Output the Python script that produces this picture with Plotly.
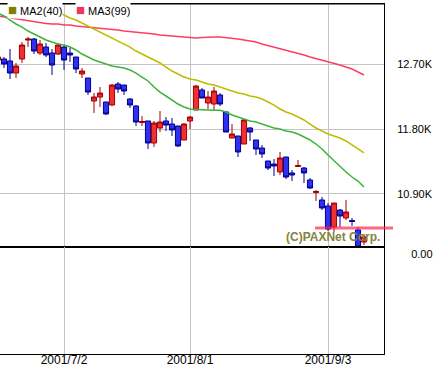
import plotly.graph_objects as go

# ---------------- data ----------------
dates = [
    "2001-06-15", "2001-06-18", "2001-06-19", "2001-06-20", "2001-06-21", "2001-06-22",
    "2001-06-25", "2001-06-26", "2001-06-27", "2001-06-28", "2001-06-29",
    "2001-07-02", "2001-07-03", "2001-07-04", "2001-07-05", "2001-07-06",
    "2001-07-09", "2001-07-10", "2001-07-11", "2001-07-12", "2001-07-13",
    "2001-07-16", "2001-07-17", "2001-07-18", "2001-07-19",
    "2001-07-23", "2001-07-24", "2001-07-25", "2001-07-26", "2001-07-27",
    "2001-07-30", "2001-07-31",
    "2001-08-01", "2001-08-02", "2001-08-03",
    "2001-08-06", "2001-08-07", "2001-08-08", "2001-08-09", "2001-08-10",
    "2001-08-13", "2001-08-14", "2001-08-15", "2001-08-16", "2001-08-17",
    "2001-08-20", "2001-08-21", "2001-08-22", "2001-08-23", "2001-08-24",
    "2001-08-27", "2001-08-28", "2001-08-29", "2001-08-30", "2001-08-31",
    "2001-09-03", "2001-09-04", "2001-09-05", "2001-09-06", "2001-09-07",
    "2001-09-10", "2001-09-11",
]

opens = [12755, 12769, 12742, 12575, 12769, 13032, 13046, 12852, 12935, 12852, 12838,
         12935, 12852, 12797, 12562, 12506, 12188, 12243, 12174, 12132, 12423, 12409,
         12215, 12118, 11890, 11911, 11606, 11814, 11911, 11869, 11842, 11648,
         11911, 12063, 12340, 12160, 12146, 12271, 12035, 11675, 11703, 11592, 11814,
         11648, 11537, 11357, 11315, 11205, 11412, 11191, 11281, 11260, 11094, 10921, 10817,
         10734, 10443, 10678, 10568, 10533, 10402, 10235]
highs = [12825, 12797, 12908, 12714, 13005, 13074, 13060, 13032, 12991, 12908, 12991,
         12949, 12922, 12797, 12645, 12506, 12298, 12382, 12174, 12423, 12451, 12409,
         12229, 12132, 11980, 11911, 11911, 12049, 11966, 11952, 11842, 11883,
         11980, 12409, 12368, 12326, 12382, 12298, 12049, 11869, 11703, 11938, 11828,
         11648, 11578, 11357, 11385, 11482, 11412, 11232, 11371, 11274, 11122, 10955, 10858,
         10775, 10775, 10692, 10817, 10568, 10443, 10346]
lows = [12728, 12645, 12492, 12506, 12714, 12935, 12838, 12825, 12797, 12548, 12825,
        12617, 12728, 12575, 12506, 12271, 12022, 12105, 11994, 12118, 12298, 12271,
        12091, 11842, 11842, 11523, 11551, 11758, 11772, 11703, 11551, 11648,
        11800, 12063, 12229, 12077, 12063, 12118, 11758, 11675, 11412, 11592, 11634,
        11440, 11398, 11232, 11149, 11163, 11108, 11080, 11274, 11052, 10969, 10803, 10678,
        10388, 10374, 10443, 10540, 10457, 10152, 10194]
closes = [12797, 12700, 12575, 12672, 12963, 13046, 12880, 12977, 12825, 12686, 12963,
          12755, 12825, 12631, 12603, 12312, 12243, 12298, 12008, 12409, 12354, 12326,
          12132, 11897, 11904, 11606, 11883, 11897, 11855, 11786, 11565, 11869,
          11966, 12395, 12229, 12243, 12326, 12146, 11758, 11731, 11482, 11925, 11758,
          11523, 11454, 11260, 11288, 11398, 11135, 11163, 11295, 11191, 10983, 10935, 10706,
          10415, 10775, 10595, 10651, 10519, 10166, 10305]

# short moving average (green)
ma1 = [13406, 13365, 13309, 13254, 13212, 13157, 13115, 13074, 13032, 13005, 12977,
       12963, 12935, 12894, 12838, 12797, 12755, 12728, 12700, 12672, 12658, 12645,
       12617, 12575, 12520, 12465, 12382, 12312, 12257, 12202, 12146, 12105,
       12077, 12070, 12063, 12063, 12060, 12060, 12035, 11994, 11966, 11938, 11911,
       11897, 11869, 11842, 11814, 11800, 11772, 11758, 11731, 11689, 11648, 11592, 11523,
       11440, 11357, 11274, 11205, 11135, 11080, 10997]
# MA2(40) (starts later on the visible window)
ma2 = [13586, 13545, 13503, 13462, 13420,
       13378, 13337, 13309, 13268, 13226, 13185, 13143, 13102, 13060, 13018, 12977,
       12935, 12880, 12838, 12797, 12755, 12714, 12658, 12603, 12562, 12520,
       12492, 12478, 12451, 12423, 12409, 12382, 12354, 12326, 12298, 12285, 12257,
       12243, 12215, 12174, 12132, 12077, 12035, 12008, 11966, 11925, 11869, 11814, 11772,
       11731, 11703, 11675, 11634, 11578, 11523, 11468]
# MA3(99)
ma3 = [13365, 13351, 13337, 13323, 13309, 13295, 13282, 13268, 13261, 13254, 13254,
       13240, 13240, 13226, 13219, 13212, 13205, 13198, 13185, 13178, 13171, 13157,
       13150, 13143, 13129, 13122, 13115, 13102, 13095, 13088, 13074, 13067,
       13060, 13060, 13067, 13074, 13074, 13074, 13067, 13060, 13046, 13032, 13018,
       13005, 12977, 12956, 12935, 12908, 12894, 12873, 12852, 12825, 12797, 12776, 12755,
       12735, 12714, 12686, 12658, 12631, 12589, 12548]

price_ticks = [10900, 11800, 12700]
price_tick_labels = ["10.90K", "11.80K", "12.70K"]
date_ticks = ["2001-07-02", "2001-08-01", "2001-09-03"]
date_tick_labels = ["2001/7/2", "2001/8/1", "2001/9/3"]
volume_ticks = [0]
volume_tick_labels = ["0.00"]
support_level = 10430
legend_names = ["MA2(40)", "MA3(99)"]
legend_colors = ["#808000", "#f0365a"]
copyright_text = "(C)PAXNet Corp."

# ---------------- figure ----------------
FONT = "Liberation Sans, Arial, sans-serif"
split = 107 / 350

fig = go.Figure()

fig.add_trace(go.Scatter(
    x=dates, y=ma3, mode="lines", xaxis="x", yaxis="y",
    line=dict(color="#ff3c66", width=1.5), showlegend=False, hoverinfo="skip"))
fig.add_trace(go.Scatter(
    x=dates[-len(ma2):], y=ma2, mode="lines", xaxis="x", yaxis="y",
    line=dict(color="#bcbc00", width=1.5), showlegend=False, hoverinfo="skip"))
fig.add_trace(go.Scatter(
    x=dates, y=ma1, mode="lines", xaxis="x", yaxis="y",
    line=dict(color="#3cb43c", width=1.5), showlegend=False, hoverinfo="skip"))

fig.add_trace(go.Candlestick(
    x=dates, open=opens, high=highs, low=lows, close=closes,
    xaxis="x", yaxis="y",
    increasing=dict(line=dict(color="#a00000", width=1), fillcolor="#f03030"),
    decreasing=dict(line=dict(color="#000090", width=1), fillcolor="#3030f0"),
    whiskerwidth=0, showlegend=False, hoverinfo="skip"))

# empty lower (volume) panel: placeholder so the subplot exists
fig.add_trace(go.Scatter(x=[dates[0]], y=[None], xaxis="x", yaxis="y2",
                         mode="lines", showlegend=False, hoverinfo="skip"))

grid = "#c4c4c4"
fig.update_layout(
    width=435, height=367,
    margin=dict(l=0, r=51, t=4, b=13, autoexpand=False),
    paper_bgcolor="white", plot_bgcolor="white",
    showlegend=False,
    boxgap=0.1, boxgroupgap=0.05,
    font=dict(family=FONT, size=11, color="black"),
    xaxis=dict(
        type="category", categoryorder="array", categoryarray=dates,
        range=[0.333, 64.333], tickvals=date_ticks, ticktext=date_tick_labels,
        domain=[0, 1], anchor="y2",
        showgrid=True, gridcolor=grid, gridwidth=1, showline=True, linecolor="black",
        linewidth=1, mirror="all", ticks="", zeroline=False,
        rangeslider=dict(visible=False), fixedrange=True, automargin=False,
        tickfont=dict(family=FONT, size=12, color="black")),
    yaxis=dict(domain=[split, 1], anchor="x", side="right", range=[10166, 13531],
               tickvals=price_ticks, ticktext=price_tick_labels,
               showgrid=True, gridcolor=grid, gridwidth=1, zeroline=False,
               showline=True, linecolor="black", linewidth=1, ticks="",
               ticklabelstandoff=10, automargin=False, fixedrange=True,
               tickfont=dict(family=FONT, size=11, color="black")),
    yaxis2=dict(domain=[0, split], anchor="x", side="right", range=[-13, 1],
                tickvals=volume_ticks, ticktext=volume_tick_labels,
                showgrid=False, zeroline=False, showline=True, linecolor="black",
                linewidth=1, ticks="", ticklabelstandoff=24, automargin=False,
                fixedrange=True,
                tickfont=dict(family=FONT, size=11, color="black")),
)
try:
    fig.update_xaxes(ticklabelstandoff=-5)
except ValueError:
    pass

# frame line: top of the price panel
fig.add_shape(type="line", xref="paper", yref="paper", x0=0, x1=1, y0=1, y1=1,
              line=dict(color="black", width=1))

# support line across the right end (extends past the frame)
fig.add_shape(type="line", xref="paper", yref="y", x0=315 / 384, x1=393 / 384,
              y0=support_level, y1=support_level,
              line=dict(color="rgba(255,40,80,0.7)", width=3))

# copyright watermark
fig.add_annotation(xref="paper", yref="paper", x=382 / 384, y=1 - (236.5 - 4) / 350,
                   xanchor="right", yanchor="middle", showarrow=False,
                   text="<b>" + copyright_text + "</b>",
                   font=dict(family=FONT, size=12, color="#84843c"))

# legend (coloured squares + names)
legend_x = [7, 75]
for name, col, lx in zip(legend_names, legend_colors, legend_x):
    fig.add_annotation(xref="paper", yref="paper", x=lx / 384, y=1 - (9.5 - 4) / 350,
                       xanchor="left", yanchor="middle", showarrow=False,
                       bgcolor="white", borderpad=0,
                       text='<span style="color:%s;font-size:15px">■</span> %s' % (col, name),
                       font=dict(family=FONT, size=11, color="black"))

fig.write_html("out.html", config={"displayModeBar": False},
               post_script="document.body.style.margin='0';")
